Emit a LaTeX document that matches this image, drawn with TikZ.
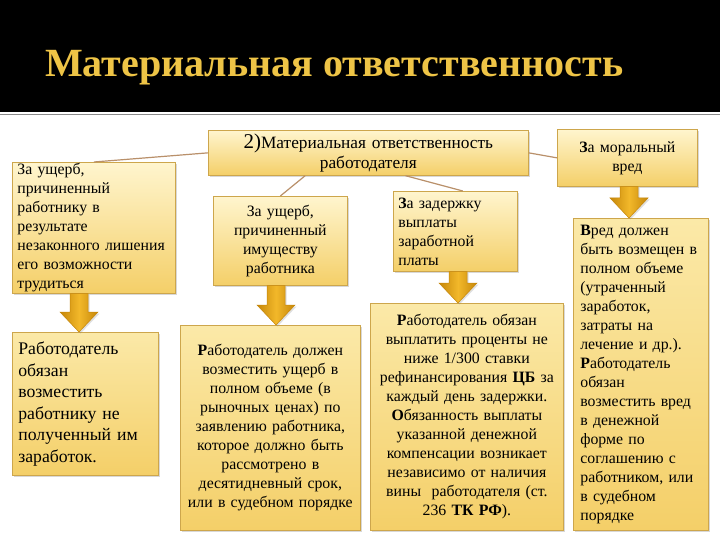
\documentclass[tikz,border=0pt]{standalone}
\usepackage{fontspec}
\setmainfont{Liberation Serif}
\newfontfamily\boxfont{Liberation Serif}
\usetikzlibrary{calc,shadows}
\definecolor{boxtop}{HTML}{FFF5CE}
\definecolor{boxmid}{HTML}{FBE9A8}
\definecolor{boxbot}{HTML}{F4CF68}
\definecolor{boxline}{HTML}{CDA64C}
\definecolor{linkcol}{HTML}{B9906A}
\definecolor{arrowdark}{HTML}{C6870A}
\definecolor{arrowlight}{HTML}{F2B82A}
\definecolor{titlegold}{HTML}{EEC446}
\definecolor{sepgrey}{HTML}{8A8A8A}
\newcommand\goldarrow[3]{%
  \path[arrowstyle] let \p1=(#2.south), \p2=(#3.north) in
    ({#1pt-9pt},\y1) -- ({#1pt+9pt},\y1) -- ({#1pt+9pt},\y2+20pt) --
    ({#1pt+19pt},\y2+20pt) -- (#1pt,\y2) -- ({#1pt-19pt},\y2+20pt) --
    ({#1pt-9pt},\y2+20pt) -- cycle;}
\begin{document}
\begin{tikzpicture}[x=1pt,y=-1pt,
  box/.style={draw=boxline, line width=0.7pt, top color=boxtop, bottom color=boxbot,
    drop shadow={opacity=0.3,shadow xshift=2pt,shadow yshift=-2pt},
    inner ysep=0pt, anchor=north west, font=\boxfont\fontsize{15.8}{19}\selectfont},
  palebox/.style={box, top color=boxmid, middle color=boxtop, bottom color=boxbot},
  link/.style={draw=linkcol, line width=1.2pt},
  arrowstyle/.style={left color=arrowdark, right color=arrowdark, middle color=arrowlight,
    draw=arrowdark, line width=0.5pt,
    drop shadow={opacity=0.25,shadow xshift=1.5pt,shadow yshift=-1.5pt}}]
\useasboundingbox (0,0) rectangle (720,540);
\fill[white] (0,0) rectangle (720,540);
\fill[black] (0,0) rectangle (720,112);
\draw[sepgrey, line width=1.5pt] (0,114.5) -- (720,114.5);
\node[anchor=base west, inner sep=0pt, text=titlegold,
  font=\boxfont\fontsize{40}{40}\selectfont\bfseries] (title) at (45,77) {Материальная ответственность};

% upper row
\node[box, minimum width=320pt, minimum height=45pt, text width=314pt, inner xsep=3pt, align=center,
  font=\boxfont\fontsize{17.3}{20}\selectfont]
  (top) at (208,130) {{\fontsize{21}{20}\selectfont 2)}Материальная ответственность\\работодателя};
\node[box, minimum width=163pt, minimum height=131pt, text width=157pt, inner xsep=3pt, align=left]
  (l1) at (12,162) {\hspace*{2pt}За ущерб,\\\hspace*{2pt}причиненный\\\hspace*{2pt}работнику в\\\hspace*{2pt}результате\\\hspace*{2pt}незаконного лишения\\\hspace*{2pt}его возможности\\\hspace*{2pt}трудиться};
\node[box, minimum width=134pt, minimum height=89pt, text width=128pt, inner xsep=3pt, align=center]
  (m1) at (213,196) {За ущерб,\\причиненный\\имуществу\\работника};
\node[box, minimum width=124pt, minimum height=80pt, text width=114pt, inner xsep=5pt, align=left]
  (b3) at (393,191) {\textbf{З}а задержку\\выплаты\\заработной\\платы};
\node[box, minimum width=140pt, minimum height=57pt, text width=134pt, inner xsep=3pt, align=center]
  (moral) at (557,129) {\textbf{З}а моральный\\вред};

% lower row
\node[palebox, minimum width=146pt, minimum height=143pt, text width=138pt, inner xsep=4pt, align=left,
  font=\boxfont\fontsize{17.7}{21.5}\selectfont]
  (l2) at (12,332) {\hspace*{2pt}Работодатель\\\hspace*{2pt}обязан\\\hspace*{2pt}возместить\\\hspace*{2pt}работнику не\\\hspace*{2pt}полученный им\\\hspace*{2pt}заработок.};
\node[palebox, minimum width=180pt, minimum height=205pt, text width=176pt, inner xsep=2pt, align=center]
  (m2) at (180,325) {\textbf{Р}аботодатель должен\\возместить ущерб в\\полном объеме (в\\рыночных ценах) по\\заявлению работника,\\которое должно быть\\рассмотрено в\\десятидневный срок,\\или в судебном порядке};
\node[palebox, minimum width=193pt, minimum height=227pt, text width=189pt, inner xsep=2pt, align=center]
  (b4) at (370,303) {\textbf{Р}аботодатель обязан\\выплатить проценты не\\ниже 1/300 ставки\\рефинансирования \textbf{ЦБ} за\\каждый день задержки.\\\textbf{О}бязанность выплаты\\указанной денежной\\компенсации возникает\\независимо от наличия\\вины\ \ работодателя (ст.\\236 \textbf{ТК РФ}).};
\node[palebox, minimum width=135pt, minimum height=312pt, text width=129pt, inner xsep=3pt, align=left]
  (r2) at (573,218) {\hspace*{4pt}\textbf{В}ред должен\\\hspace*{4pt}быть возмещен в\\\hspace*{4pt}полном объеме\\\hspace*{4pt}(утраченный\\\hspace*{4pt}заработок,\\\hspace*{4pt}затраты на\\\hspace*{4pt}лечение и др.).\\\hspace*{4pt}\textbf{Р}аботодатель\\\hspace*{4pt}обязан\\\hspace*{4pt}возместить вред\\\hspace*{4pt}в денежной\\\hspace*{4pt}форме по\\\hspace*{4pt}соглашению с\\\hspace*{4pt}работником, или\\\hspace*{4pt}в судебном\\\hspace*{4pt}порядке};

% connectors
\draw[link] (top.west) -- (l1.north);
\draw[link] ($(top.south west)!0.303!(top.south east)$) -- (m1.north);
\draw[link] ($(top.south west)!0.616!(top.south east)$) -- ($(b3.north west)!0.56!(b3.north east)$);
\draw[link] (top.east) -- (moral.west);

% block arrows
\goldarrow{79}{l1}{l2}
\goldarrow{276}{m1}{m2}
\goldarrow{458}{b3}{b4}
\goldarrow{629}{moral}{r2}
\end{tikzpicture}
\end{document}
